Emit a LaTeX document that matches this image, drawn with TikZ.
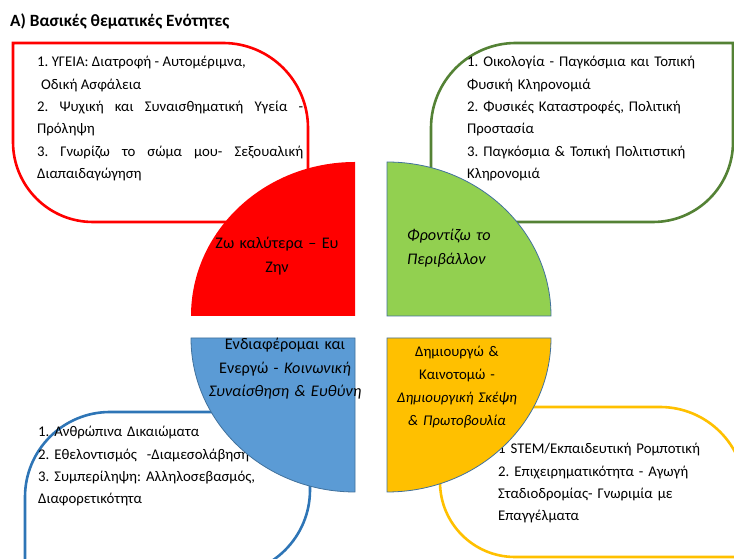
\documentclass[tikz,border=0pt]{standalone}
\usepackage{fontspec}
\setmainfont{Carlito}
\frenchspacing
\definecolor{redline}{HTML}{FF0000}
\definecolor{greenline}{HTML}{548235}
\definecolor{blueline}{HTML}{2E75B6}
\definecolor{yellowline}{HTML}{FFC000}
\definecolor{greenfill}{HTML}{92D050}
\definecolor{bluefill}{HTML}{5B9BD5}
\definecolor{edgeblue}{HTML}{41719C}
\begin{document}
\begin{tikzpicture}[x=1pt,y=1pt]
    \tikzset{
        topicbox/.style={line width=2.6pt},
        quarter/.style={draw=edgeblue, line width=0.8pt},
        listtext/.style={inner sep=0pt, anchor=base west, text width=#1,
            font=\fontsize{14.8}{22.3}\selectfont\frenchspacing, align=left},
        unitname/.style={inner sep=0pt, anchor=base, text width=#1,
            font=\fontsize{16.2}{23.5}\selectfont\frenchspacing, align=center}
    }
    \useasboundingbox (0,0) rectangle (734,559);
    \clip (0,0) rectangle (734,559);

    \draw node[inner sep=0pt, anchor=base west, font=\fontsize{17.2}{20}\selectfont\bfseries]
        (title) at (10,532) {Α) Βασικές θεματικές Ενότητες};

    % boxes with two rounded corners
    \draw[topicbox, redline] (13,516) -- (223,516) arc[start angle=90, end angle=0, radius=85]
        -- (308,337) -- (93,337) arc[start angle=270, end angle=180, radius=80] -- cycle;
    \draw[topicbox, greenline] (431,337) -- (431,431) arc[start angle=180, end angle=90, radius=85]
        -- (733,516) -- (733,417) arc[start angle=0, end angle=-90, radius=80] -- cycle;
    \draw[topicbox, blueline] (25,-16) -- (25,62) arc[start angle=180, end angle=90, radius=85]
        -- (310,147) -- (310,69) arc[start angle=0, end angle=-90, radius=85] -- cycle;
    \draw[topicbox, yellowline] (440,152) -- (660,152) arc[start angle=90, end angle=0, radius=85]
        -- (745,2) -- (515,2) arc[start angle=270, end angle=180, radius=75] -- cycle;

    \draw node[listtext=266pt, align=justify] (health) at (37,492)
        {1. ΥΓΕΙΑ: Διατροφή - Αυτομέριμνα,\\
        \hspace*{4pt}Οδική Ασφάλεια\\
        2. Ψυχική και Συναισθηματική Υγεία -\linebreak Πρόληψη\\
        3. Γνωρίζω το σώμα μου- Σεξουαλική\linebreak Διαπαιδαγώγηση};
    \draw node[listtext=260pt] (nature) at (467,492)
        {1. Οικολογία - Παγκόσμια και Τοπική\\
        Φυσική Κληρονομιά\\
        2. Φυσικές Καταστροφές, Πολιτική\\
        Προστασία\\
        3. Παγκόσμια \& Τοπική Πολιτιστική\\
        Κληρονομιά};
    \draw node[listtext=260pt] (society) at (38,122)
        {1. Ανθρώπινα Δικαιώματα\\
        2. Εθελοντισμός\ \ -Διαμεσολάβηση\\
        3. Συμπερίληψη: Αλληλοσεβασμός,\\
        Διαφορετικότητα};
    \draw node[listtext=230pt] (create) at (498,105)
        {1 STEM/Εκπαιδευτική Ρομποτική\\
        2. Επιχειρηματικότητα - Αγωγή\\
        Σταδιοδρομίας- Γνωριμία με\\
        Επαγγέλματα};

    % the four quarters
    \fill[redline] (355,243) -- (191,243) arc[start angle=180, end angle=90, x radius=164, y radius=154] -- cycle;
    \filldraw[quarter, fill=greenfill] (387,243) -- (387,397) arc[start angle=90, end angle=0, x radius=164, y radius=154] -- cycle;
    \filldraw[quarter, fill=bluefill] (355,221) -- (191,221) arc[start angle=180, end angle=270, x radius=164, y radius=154] -- cycle;
    \filldraw[quarter, fill=yellowline] (387,221) -- (551,221) arc[start angle=0, end angle=-90, x radius=164, y radius=154] -- cycle;

    \draw node[unitname=150pt] (live) at (277,310) {Ζω καλύτερα – Ευ\\ Ζην};
    \draw node[unitname=120pt, anchor=base west, align=left, font=\fontsize{16.2}{24}\selectfont\itshape]
        (env) at (407,318) {Φροντίζω το\\ Περιβάλλον};
    \draw node[unitname=180pt] (care) at (285,209)
        {Ενδιαφέρομαι και\\ Ενεργώ - \textit{Κοινωνική}\\ \textit{Συναίσθηση \& Ευθύνη}};
    \draw node[unitname=150pt, font=\fontsize{14.8}{22.7}\selectfont] (innov) at (457,202)
        {Δημιουργώ \&\\ Καινοτομώ -\\ \textit{Δημιουργική Σκέψη}\\ \textit{\& Πρωτοβουλία}};
\end{tikzpicture}
\end{document}
